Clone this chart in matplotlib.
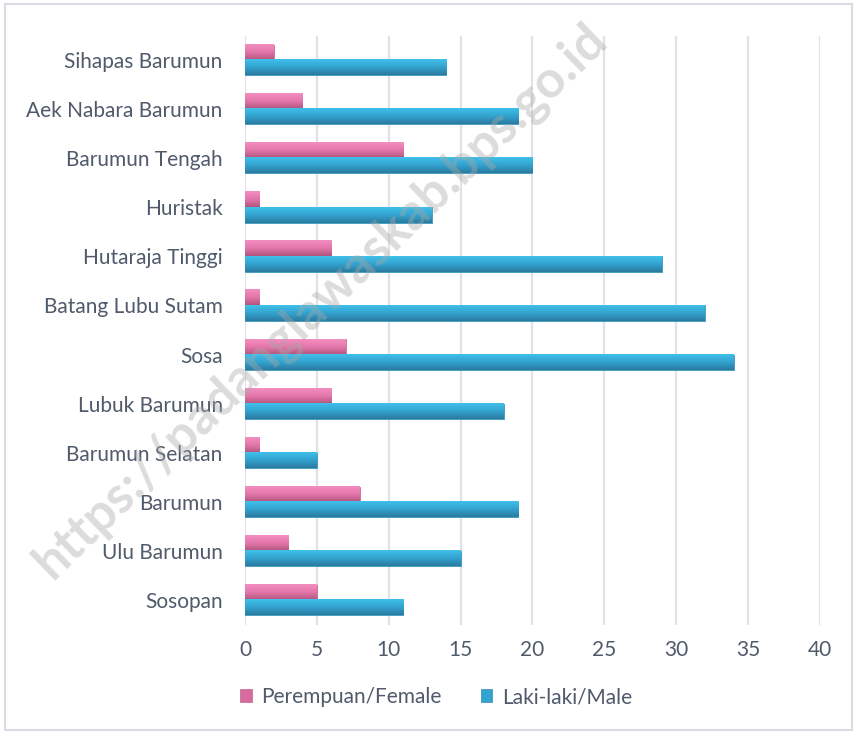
import matplotlib.pyplot as plt
import numpy as np
from matplotlib.patches import Rectangle
from matplotlib.colors import LinearSegmentedColormap

plt.rcParams['font.family'] = ['Lato', 'DejaVu Sans']

# categories from top to bottom as shown
kecamatan = ["Sihapas Barumun", "Aek Nabara Barumun", "Barumun Tengah", "Huristak",
             "Hutaraja Tinggi", "Batang Lubu Sutam", "Sosa", "Lubuk Barumun",
             "Barumun Selatan", "Barumun", "Ulu Barumun", "Sosopan"]
female = [2, 4, 11, 1, 6, 1, 7, 6, 1, 8, 3, 5]
male = [14, 19, 20, 13, 29, 32, 34, 18, 5, 19, 15, 11]
xticks = [0, 5, 10, 15, 20, 25, 30, 35, 40]

text_col = "#4f5a6b"
pink = "#d96a9c"
blue = "#33a3cf"
pink_grad = LinearSegmentedColormap.from_list("pg", ["#b0557c", "#e476aa", "#f38ec0"])
blue_grad = LinearSegmentedColormap.from_list("bg", ["#2a7b9f", "#33a3cf", "#3fc0ea"])

fig = plt.figure(figsize=(8.55, 7.33), dpi=100)
ax = fig.add_axes([0.2865, 0.148, 0.6725, 0.8035])

y = np.arange(len(kecamatan))[::-1]
h = 0.31
b1 = ax.barh(y + h / 2, female, height=h, color=pink, edgecolor="#c0648e", linewidth=0.5,
             label="Perempuan/Female", zorder=3)
b2 = ax.barh(y - h / 2, male, height=h, color=blue, edgecolor="#2c8db5", linewidth=0.5,
             label="Laki-laki/Male", zorder=3)

ax.set_xlim(0, 40)
ax.set_ylim(-0.5, len(kecamatan) - 0.5)
ax.set_autoscale_on(False)

# vertical gradient fill on each bar
grad = np.linspace(0, 1, 64).reshape(-1, 1)
for bars, cmap in ((b1, pink_grad), (b2, blue_grad)):
    for p in bars:
        x0, y0 = p.get_x(), p.get_y()
        ax.imshow(grad, cmap=cmap, origin="lower", aspect="auto", zorder=3.5,
                  extent=(x0, x0 + p.get_width(), y0, y0 + p.get_height()))

ax.set_xticks(xticks)
ax.set_yticks(y)
ax.set_yticklabels(kecamatan)
ax.tick_params(axis="both", length=0, labelsize=15, colors=text_col)
ax.tick_params(axis="x", pad=11)
ax.tick_params(axis="y", pad=16)
ax.grid(axis="x", color="#dfe2e8", linewidth=1.6, zorder=0)
for s in ax.spines.values():
    s.set_visible(False)

fig.legend(loc="center", bbox_to_anchor=(0.51, 0.049), ncol=2, frameon=False,
           fontsize=15, labelcolor=text_col, handlelength=0.55, handleheight=0.55,
           handletextpad=0.45, columnspacing=1.9)

# outer frame
fig.patches.append(Rectangle((0.006, 0.004), 0.99, 0.99, transform=fig.transFigure,
                             fill=False, edgecolor="#d9dce2", linewidth=1.5))

# watermark
fig.text(0.375, 0.59, "https://padanglawaskab.bps.go.id", fontsize=37, fontweight="bold",
         color="#a8a8a8", alpha=0.4, rotation=44, ha="center", va="center", zorder=10)

fig.savefig("out.png", dpi=100)
